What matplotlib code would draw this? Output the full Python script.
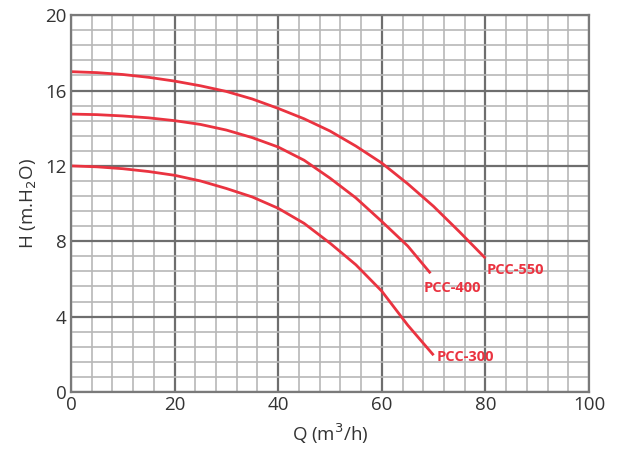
import matplotlib.pyplot as plt
import numpy as np

plt.rcParams['font.family'] = ['Open Sans', 'DejaVu Sans']

# pump curves
q_550 = [0, 5, 10, 15, 20, 25, 30, 35, 40, 45, 50, 55, 60, 65, 70, 75, 80]
h_550 = [17.0, 16.95, 16.85, 16.7, 16.5, 16.25, 15.95, 15.55, 15.05, 14.5, 13.85, 13.05, 12.15, 11.05, 9.85, 8.5, 7.1]

q_400 = [0, 5, 10, 15, 20, 25, 30, 35, 40, 45, 50, 55, 60, 65, 69.4]
h_400 = [14.75, 14.72, 14.65, 14.55, 14.4, 14.2, 13.9, 13.5, 13.0, 12.3, 11.35, 10.3, 9.05, 7.75, 6.3]

q_300 = [0, 5, 10, 15, 20, 25, 30, 35, 40, 45, 50, 55, 60, 65, 70]
h_300 = [12.0, 11.95, 11.85, 11.7, 11.5, 11.2, 10.8, 10.35, 9.75, 8.95, 7.9, 6.75, 5.35, 3.55, 1.95]

names = ["PCC-550", "PCC-400", "PCC-300"]
label_pos = [(80.3, 6.5), (68.0, 5.5), (70.6, 1.85)]

xticks = [0, 20, 40, 60, 80, 100]
yticks = [0, 4, 8, 12, 16, 20]

red = "#ea3340"

fig = plt.figure(figsize=(6.2, 4.59), dpi=100)
ax = fig.add_axes([0.1145, 0.146, 0.8355, 0.821])

ax.set_xlim(0, 100)
ax.set_ylim(0, 20)
ax.set_xticks(xticks)
ax.set_yticks(yticks)
xm = [v for v in np.arange(0, 101, 4) if v % 20 != 0]
ym = [round(v, 1) for v in np.arange(0, 20.01, 0.8) if round(v, 1) % 4 != 0]
ax.set_xticks(xm, minor=True)
ax.set_yticks(ym, minor=True)
ax.grid(which="minor", color="#b8b8b8", lw=1.2)
ax.grid(which="major", color="#6e6e6e", lw=1.6)
ax.set_axisbelow(True)
ax.tick_params(which="both", length=0, labelsize=13.5, colors="#333333", pad=3)
for s in ax.spines.values():
    s.set_color("#7a7a7a")
    s.set_linewidth(1.6)

for q, h in [(q_550, h_550), (q_400, h_400), (q_300, h_300)]:
    ax.plot(q, h, color=red, lw=2.0, solid_capstyle="butt", solid_joinstyle="round")

for name, (x, y) in zip(names, label_pos):
    ax.text(x, y, name, color=red, fontsize=10.5, fontweight="bold", va="center", ha="left")

ax.set_xlabel("Q (m$^3$/h)", fontsize=13.5, color="#333333", labelpad=5)
ax.set_ylabel("H (m.H$_2$O)", fontsize=13.5, color="#333333", labelpad=5)

fig.savefig("out.png", dpi=100)
